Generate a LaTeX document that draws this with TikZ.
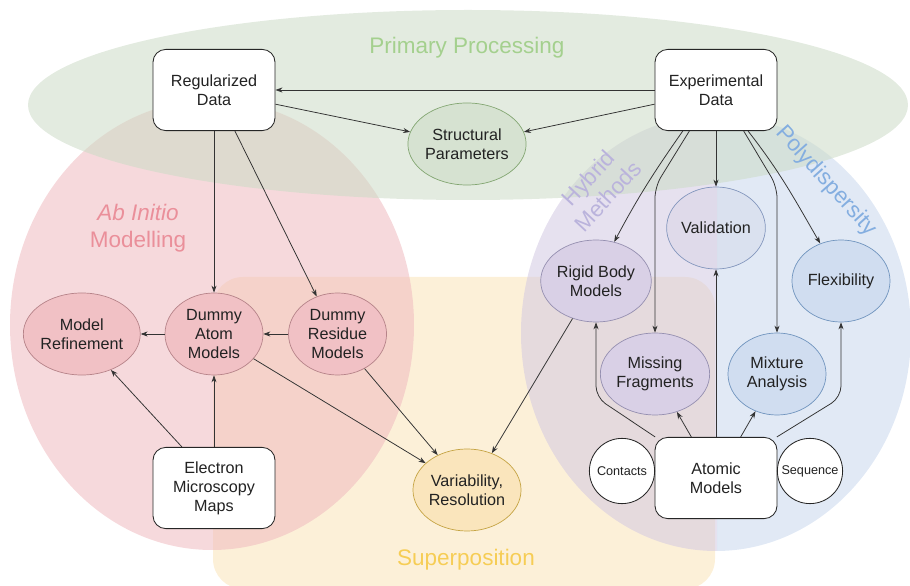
\documentclass[tikz,border=0pt]{standalone}
\usepackage{fontspec}
\setsansfont{Liberation Sans}
\usepackage{xcolor}
\usepackage{tikz}
\usetikzlibrary{shapes,shapes.geometric,arrows,arrows.meta,positioning,calc}

\definecolor{grnbg}{HTML}{CCDBC6}
\definecolor{pnkbg}{HTML}{EFBABF}
\definecolor{ylwbg}{HTML}{FAE4B8}
\definecolor{prpbg}{HTML}{D2C8E2}
\definecolor{blubg}{HTML}{C8D7ED}
\definecolor{grntxt}{HTML}{A4D08E}
\definecolor{pnktxt}{HTML}{EA8F9A}
\definecolor{ylwtxt}{HTML}{F6CD55}
\definecolor{prptxt}{HTML}{BAB3DC}
\definecolor{blutxt}{HTML}{84AEE0}
\definecolor{inktxt}{HTML}{222222}

\begin{document}
\begin{tikzpicture}[
    x=0.025cm, y=0.025cm,
    font=\sffamily\fontsize{11.5}{13.5}\selectfont,
    text=inktxt,
    databox/.style={rectangle, rounded corners=0.32cm, draw=black!85, fill=white, line width=0.6pt,
        minimum width=3.05cm, minimum height=2.03cm, align=center},
    blob/.style={ellipse, line width=0.5pt, minimum width=2.45cm, minimum height=2.05cm,
        inner sep=0pt, align=center},
    pinkblob/.style={blob, fill=pnkbg!90!white, draw=pnktxt!70!black!80},
    prpblob/.style={blob, fill=prpbg!85!white, draw=prptxt!80!black},
    blublob/.style={blob, fill=blubg!85!white, draw=blutxt!85!black},
    smallcirc/.style={circle, draw=black!85, fill=white, line width=0.6pt, minimum size=1.63cm,
        inner sep=0pt, font=\sffamily\fontsize{9}{11}\selectfont},
    region/.style={fill opacity=0.55},
    rlabel/.style={font=\sffamily\fontsize{16}{19}\selectfont, align=center},
    arrow/.style={-{Stealth[length=5pt,width=3.6pt]}, line width=0.55pt, draw=black!80}
]
    \useasboundingbox (0,0) rectangle (910,586);

    % Regions
    \fill[region, ylwbg, rounded corners=0.75cm] (213,-3) rectangle (715,309);
    \fill[region, pnkbg] (212,261) ellipse [x radius=202, y radius=225];
    \begin{scope}
        \clip (500,0) rectangle (717,586);
        \fill[region, prpbg] (716,253) ellipse [x radius=195, y radius=218];
    \end{scope}
    \begin{scope}
        \clip (717,0) rectangle (910,586);
        \fill[region, blubg] (716,253) ellipse [x radius=195, y radius=218];
    \end{scope}
    \fill[region, grnbg] (468,481) ellipse [x radius=440, y radius=95];

    % Region labels
    \node[rlabel, text=grntxt] (lblprim) at (467,538) {Primary Processing};
    \node[rlabel, text=pnktxt] (lblabin) at (138,358) {\itshape Ab Initio\\Modelling};
    \node[rlabel, text=ylwtxt] (lblsupr) at (466,26) {Superposition};
    \node[rlabel, text=prptxt, rotate=47] (lblhybr) at (598,399) {Hybrid\\Methods};
    \node[rlabel, text=blutxt, rotate=-48] (lblpoly) at (826,405) {Polydispersity};

    % Nodes
    \node[databox] (regd) at (214,496) {Regularized\\Data};
    \node[databox] (expd) at (716,496) {Experimental\\Data};
    \node[blob, fill=grnbg!80!white, draw=grntxt!80!black] (strp) at (467,442) {Structural\\Parameters};

    \node[pinkblob] (datom) at (214,252) {Dummy\\Atom\\Models};
    \node[pinkblob, left=0.6cm of datom] (mref) {Model\\Refinement};
    \node[pinkblob, right=0.62cm of datom] (dres) {Dummy\\Residue\\Models};
    \node[databox] (emap) at (214,98) {Electron\\Microscopy\\Maps};
    \node[blob, fill=ylwbg!95!white, draw=ylwtxt!80!black] (var) at (467,96) {Variability,\\Resolution};

    \node[blob, fill=blue!30!black!25, fill opacity=0.18, text opacity=1, draw=blutxt!60!prptxt!85!black] (valid) at (716,358) {Validation};
    \node[prpblob] (rigid) at (596,305) {Rigid Body\\Models};
    \node[blublob] (flex) at (841,305) {Flexibility};
    \node[prpblob] (missf) at (655,212) {Missing\\Fragments};
    \node[blublob] (mixa) at (777,212) {Mixture\\Analysis};

    \node[databox] (atm) at (716,108) {Atomic\\Models};
    \node[smallcirc] (cont) at (622,115) {Contacts};
    \node[smallcirc] (seqn) at (810,115) {Sequence};

    % Primary processing
    \draw[arrow] (expd.west) -- (regd.east);
    \draw[arrow] (regd.347) -- (strp.168);
    \draw[arrow] (expd.193) -- (strp.12);

    % Ab initio
    \draw[arrow] (regd.south) -- (datom.north);
    \draw[arrow] (regd.297) -- (dres.119);
    \draw[arrow] (dres.west) -- (datom.east);
    \draw[arrow] (datom.west) -- (mref.east);
    \draw[arrow] (emap.128) -- (mref.309);
    \draw[arrow] (emap.north) -- (datom.south);

    % Superposition
    \draw[arrow] (datom.328) -- (var.147);
    \draw[arrow] (dres.308) -- (var.130);
    \draw[arrow] (rigid.238) -- (var.56);

    % Hybrid methods and polydispersity
    \draw[arrow] (expd.231) to[out=235, in=62] (rigid.65);
    \draw[arrow, rounded corners=8pt] (expd.237) -- (missf.north |- valid.north) -- (missf.north);
    \draw[arrow] (expd.south) -- (valid.north);
    \draw[arrow, rounded corners=8pt] (expd.304) -- (mixa.north |- valid.north) -- (mixa.north);
    \draw[arrow] (expd.308) to[out=-52, in=120] (flex.119);

    \draw[arrow] (atm.north) -- (valid.south);
    \draw[arrow, rounded corners=8pt] (atm.146) -- ($(rigid.south)+(0,-75)$) -- (rigid.south);
    \draw[arrow] (atm.121) -- (missf.300);
    \draw[arrow] (atm.59) -- (mixa.240);
    \draw[arrow, rounded corners=8pt] (atm.34) -- ($(flex.south)+(0,-75)$) -- (flex.south);
\end{tikzpicture}
\end{document}
